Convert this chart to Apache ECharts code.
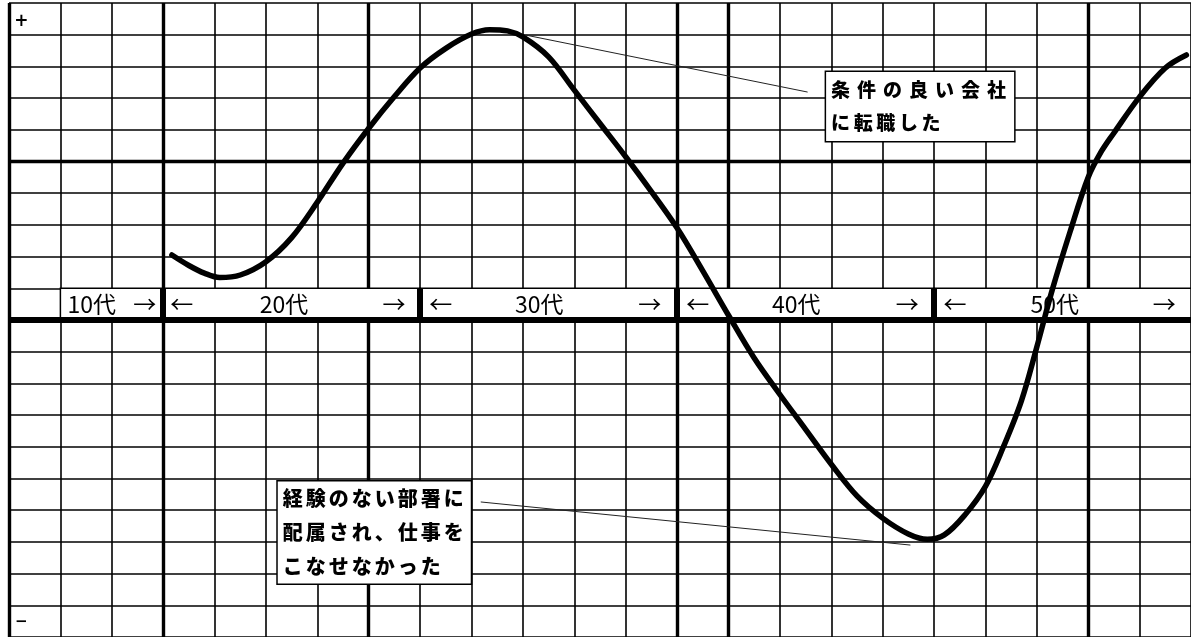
<!DOCTYPE html>
<html>
<head>
<meta charset="utf-8">
<script src="https://cdn.jsdelivr.net/npm/echarts@6/dist/echarts.min.js"></script>
<style>
html,body{margin:0;padding:0;background:#fff;}
#c{width:1191px;height:637px;}
</style>
</head>
<body>
<div id="c"></div>
<script>
// ---- data (x in grid columns, y in grid rows; 0 = zero axis) ----
const curveX = [3.17,3.5,3.8,4.1,4.5,5.0,5.5,6.0,6.5,7.0,7.5,8.0,8.5,9.0,9.35,9.7,10.0,10.5,11.0,11.5,12.0,12.5,13.0,13.5,14.0,14.5,15.0,15.5,16.0,16.5,17.0,17.5,17.87,18.2,18.6,19.0,19.35,19.7,20.0,20.3,20.65,21.0,21.25,21.5,22.0,22.5,22.91];
const curveY = [2.05,1.72,1.48,1.34,1.42,1.84,2.6,3.72,4.95,6.05,7.05,7.95,8.57,9.02,9.16,9.12,8.93,8.3,7.25,6.2,5.15,4.05,2.9,1.55,0.15,-1.2,-2.35,-3.45,-4.55,-5.55,-6.25,-6.75,-6.92,-6.78,-6.15,-5.25,-4.0,-2.55,-0.85,0.95,2.8,4.5,5.3,5.9,7.04,7.95,8.36];

const decadeLabels = ['10代','20代','30代','40代','50代'];
const decadeStart  = [1,3,8,13,18];
const decadeEnd    = [3,8,13,18,23];
const decadeLabelX = [1.61,5.35,10.32,15.32,20.35];
const leftArrowX   = [null,3.36,8.40,13.40,18.41];
const rightArrowX  = [2.64,7.49,12.47,17.48,22.48];

const thickVertical = [0,3,7,13,14,21];
const thickHorizontal = [5];

const annotText1 = ['条件の良い会社','に転職した'];
const annotText2 = ['経験のない部署に','配属され、仕事を','こなせなかった'];
const annotAnchor1 = [15.89, 6.735];
const annotAnchor2 = [5.22, -6.70];
const leader1 = [[10.05, 8.99],[15.54, 7.19]];
const leader2 = [[9.18, -5.74],[17.54, -7.10]];

const plusPos = [0.24, 9.42];
const minusPos = [0.24, -9.52];

// ---- chart ----
const JP = '"Noto Sans CJK JP", "Noto Sans", sans-serif';
const chart = echarts.init(document.getElementById('c'), null, {renderer:'canvas'});

function spaced(line, key){
  return line.split('').map(ch => '{' + key + '|' + ch + '}').join('');
}

const rowY = 0.5;
const rowLabelData = [];
decadeLabels.forEach((t, i) => {
  rowLabelData.push({name: t, coord: [decadeLabelX[i], rowY]});
  if (leftArrowX[i] != null) rowLabelData.push({name: '←', coord: [leftArrowX[i], rowY]});
  rowLabelData.push({name: '→', coord: [rightArrowX[i], rowY]});
});

const option = {
  animation: false,
  backgroundColor: '#fff',
  grid: {left: 9, top: 3, width: 23 * 51.55, height: 634, containLabel: false},
  xAxis: {
    type: 'value', min: 0, max: 23, interval: 1,
    axisLine: {show: false}, axisTick: {show: false}, axisLabel: {show: false},
    splitLine: {show: true, lineStyle: {color: '#000', width: 1.6}}
  },
  yAxis: {
    type: 'value', min: -10, max: 10, interval: 1,
    axisLine: {show: false}, axisTick: {show: false}, axisLabel: {show: false},
    splitLine: {show: true, lineStyle: {color: '#000', width: 1.6}}
  },
  series: [
    {
      name: 'thickGrid', type: 'line', data: [], z: 2,
      markLine: {
        z: 2, silent: true, symbol: ['none','none'], label: {show: false},
        lineStyle: {color: '#000', width: 3.4, type: 'solid'},
        data: thickVertical.map(v => ({xAxis: v})).concat(thickHorizontal.map(v => ({yAxis: v})))
      }
    },
    {
      name: 'rowBoxes', type: 'line', data: [], z: 3,
      markArea: {
        z: 3, silent: true, label: {show: false},
        itemStyle: {color: '#fff', borderColor: '#000', borderWidth: 1.5},
        data: decadeStart.map((s, i) => [{coord: [s, 0]}, {coord: [decadeEnd[i], 1]}])
      }
    },
    {
      name: 'separators', type: 'line', data: [], z: 4,
      markLine: {
        z: 4, silent: true, symbol: ['none','none'], label: {show: false},
        lineStyle: {color: '#000', width: 6, type: 'solid'},
        data: decadeStart.slice(1).map(s => [{coord: [s, 0]}, {coord: [s, 1]}])
          .concat([{yAxis: 0}])
      },
      markPoint: {
        z: 4, silent: true, symbol: 'circle', symbolSize: 1,
        itemStyle: {color: 'rgba(0,0,0,0)'},
        label: {show: true, position: 'inside', formatter: '{b}', color: '#000',
                fontFamily: JP, fontSize: 23, fontWeight: 'normal'},
        data: rowLabelData.concat([
          {name: '+', coord: plusPos, label: {fontSize: 17, fontWeight: 'bold', fontFamily: 'DejaVu Sans'}},
          {name: '−', coord: minusPos, label: {fontSize: 15, fontWeight: 'bold', fontFamily: 'DejaVu Sans'}}
        ])
      }
    },
    {
      name: 'curve', type: 'line', z: 6,
      data: curveX.map((x, i) => [x, curveY[i]]),
      smooth: 0.35, showSymbol: false, symbol: 'none',
      lineStyle: {color: '#000', width: 5.5, cap: 'round', join: 'round'}
    },
    {
      name: 'annotations', type: 'line', data: [], z: 7,
      markLine: {
        z: 7, silent: true, symbol: ['none','none'], label: {show: false},
        lineStyle: {color: '#222', width: 1, type: 'solid'},
        data: [
          [{coord: leader1[0]}, {coord: leader1[1]}],
          [{coord: leader2[0]}, {coord: leader2[1]}]
        ]
      },
      markPoint: {
        z: 7, silent: true, symbol: 'circle', symbolSize: 1,
        itemStyle: {color: 'rgba(0,0,0,0)'},
        data: [
          {
            name: 'a1', coord: annotAnchor1,
            label: {
              show: true, position: 'right', distance: 0,
              backgroundColor: '#fff', borderColor: '#000', borderWidth: 1.5,
              padding: [1, 1, 2, 5],
              formatter: spaced(annotText1[0], 'a') + '\n' + spaced(annotText1[1], 'b'),
              rich: {
                a: {width: 26, fontSize: 19, fontWeight: 900, fontFamily: JP, color: '#000', lineHeight: 33, align: 'left'},
                b: {width: 22.6, fontSize: 19, fontWeight: 900, fontFamily: JP, color: '#000', lineHeight: 33, align: 'left'}
              }
            }
          },
          {
            name: 'a2', coord: annotAnchor2,
            label: {
              show: true, position: 'right', distance: 0,
              backgroundColor: '#fff', borderColor: '#000', borderWidth: 1.5,
              padding: [0, 4, 0, 5],
              formatter: annotText2.map(l => spaced(l, 'c')).join('\n'),
              rich: {
                c: {width: 23, fontSize: 20, fontWeight: 900, fontFamily: JP, color: '#000', lineHeight: 34, align: 'left'}
              }
            }
          }
        ]
      }
    }
  ]
};
chart.setOption(option);
</script>
</body>
</html>
